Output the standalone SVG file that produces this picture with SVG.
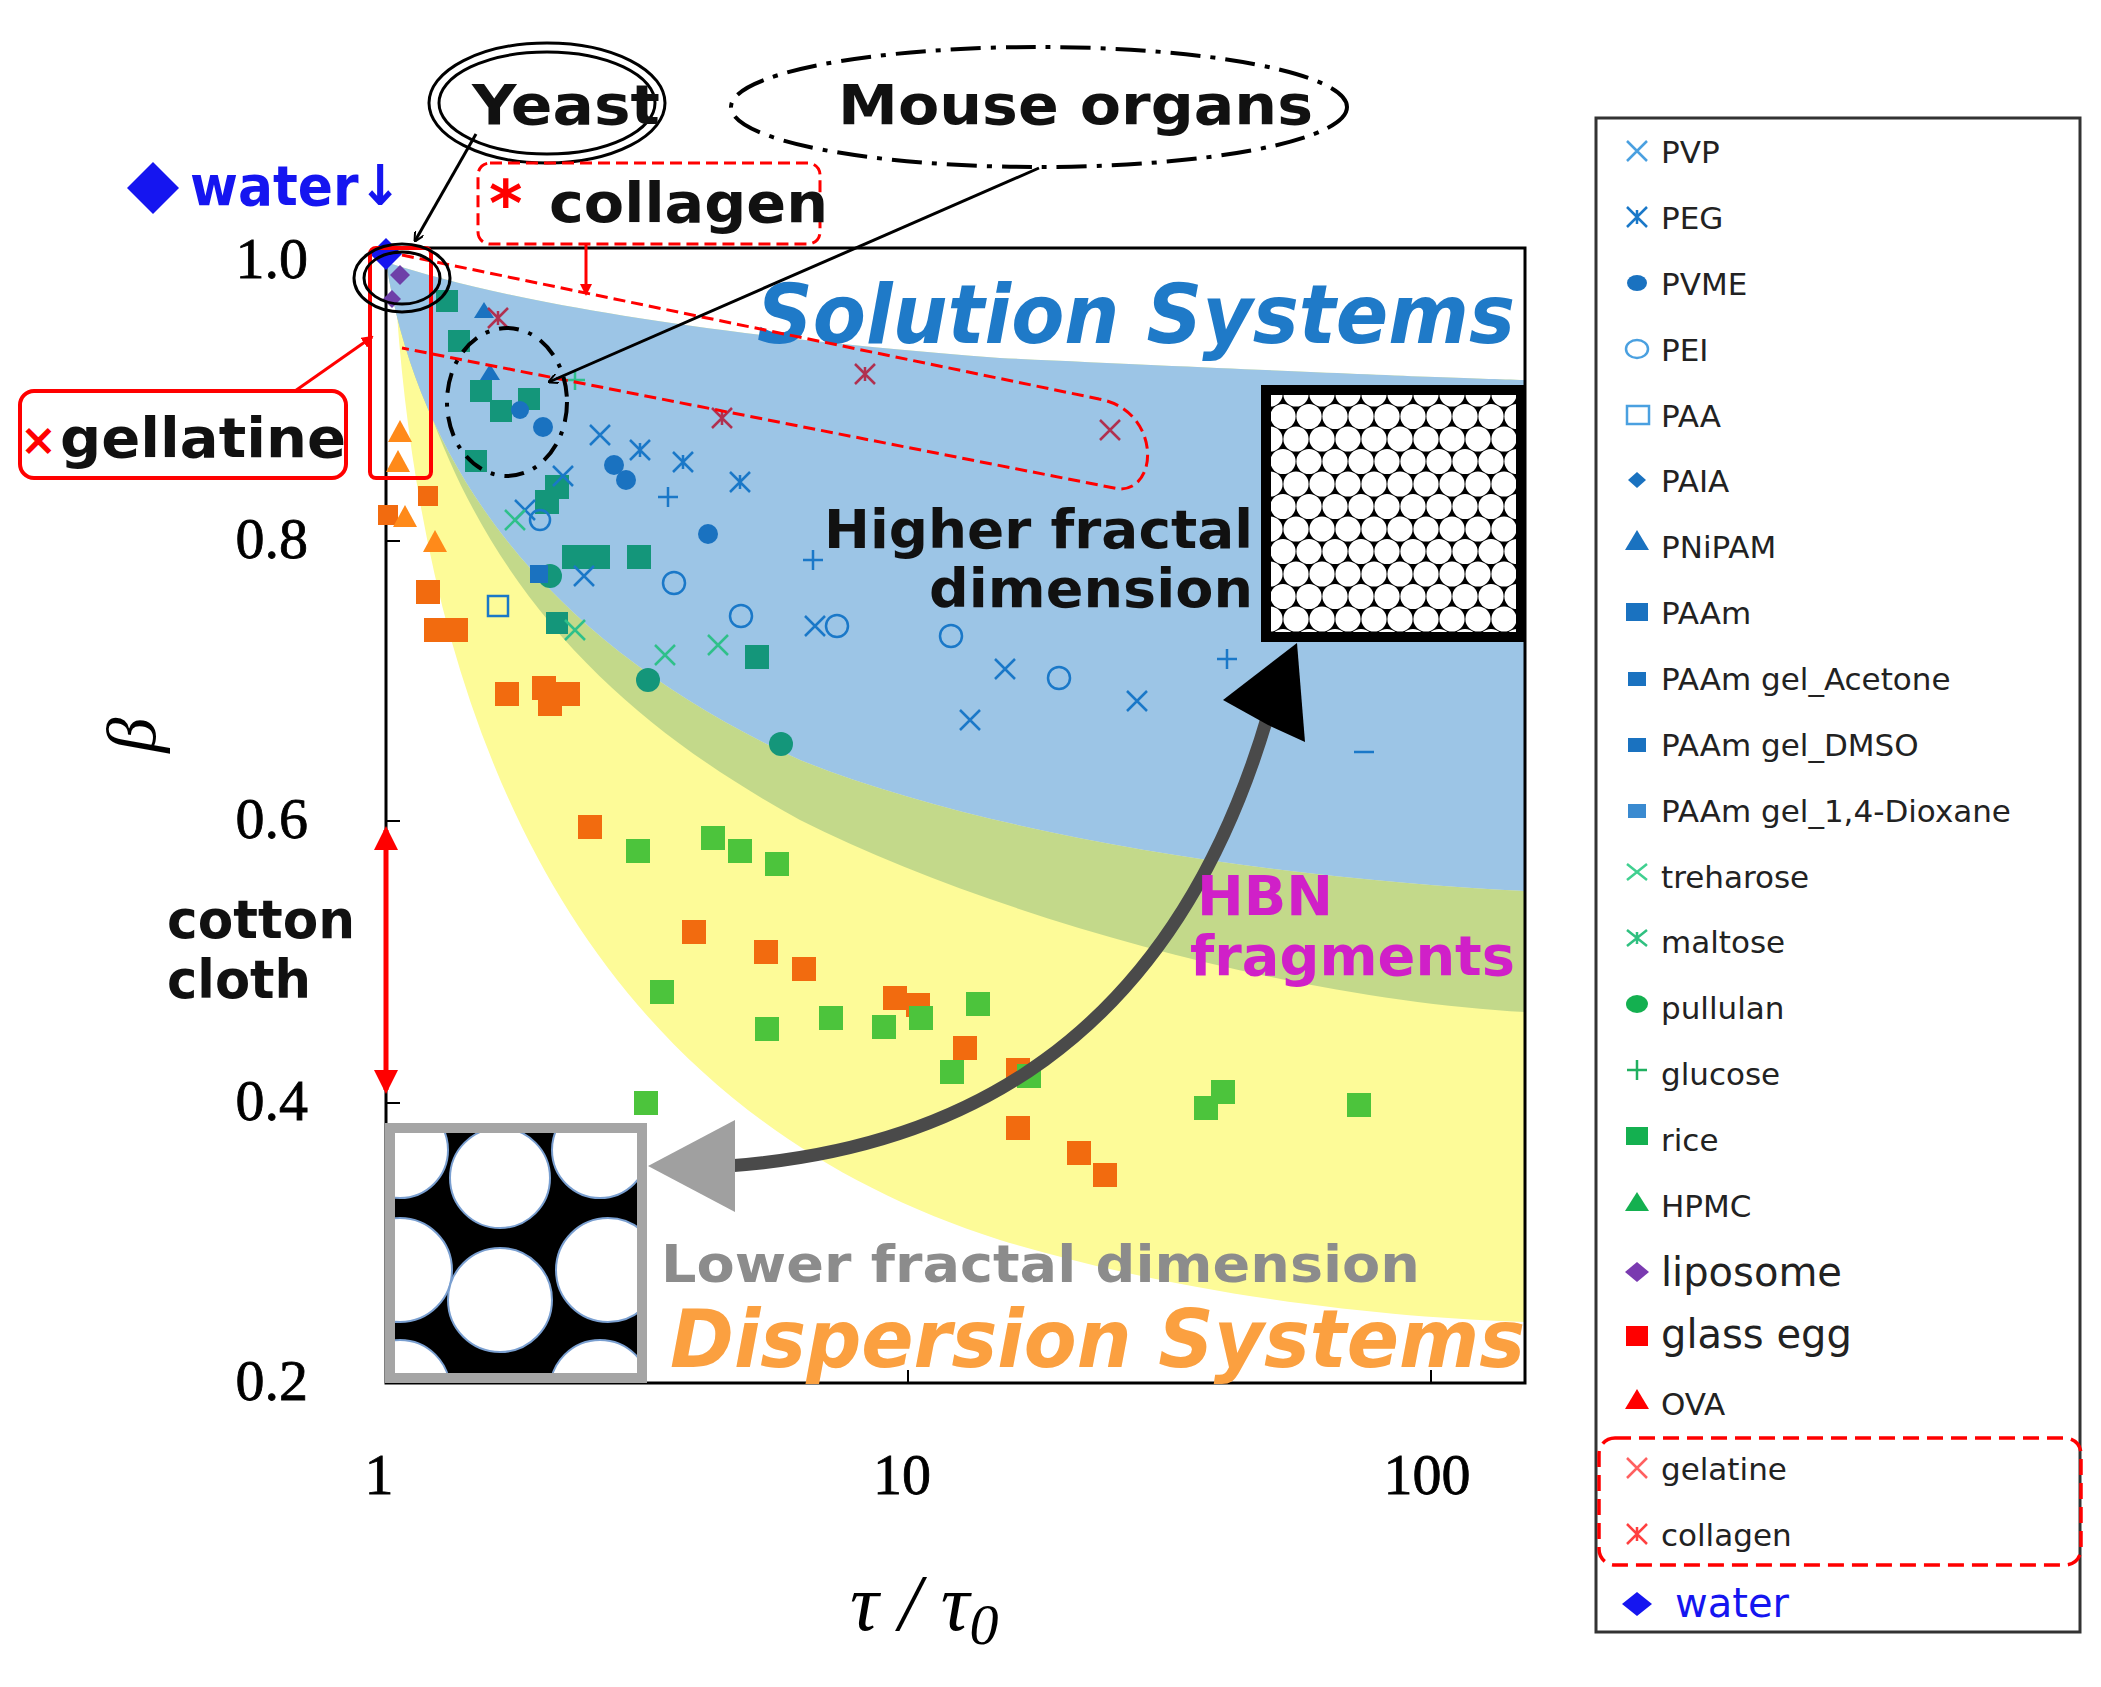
<svg xmlns="http://www.w3.org/2000/svg" width="2101" height="1687" viewBox="0 0 2101 1687">
<style>
.t{font-family:"DejaVu Sans","Liberation Sans",Arial,sans-serif;font-weight:bold}
.tm{font-family:"Liberation Serif","Times New Roman",serif}
.lg{font-family:"DejaVu Sans","Liberation Sans",Arial,sans-serif;font-size:31px;fill:#222}
.os{fill:#f26b0f}.gs{fill:#4cc43c}.ts{fill:#14967a}
.bx{stroke:#1a78c8;stroke-width:2.5;fill:none}
.bc{fill:#1a72c0}
.rx{stroke:#b03050;stroke-width:2.5;fill:none}
</style>
<defs>
<pattern id="hex" x="1270" y="394" width="26" height="45" patternUnits="userSpaceOnUse">
<rect width="26" height="45" fill="#000"/>
<circle cx="0" cy="0" r="12.6" fill="#fff"/><circle cx="26" cy="0" r="12.6" fill="#fff"/>
<circle cx="13" cy="22.5" r="12.6" fill="#fff"/><circle cx="0" cy="45" r="12.6" fill="#fff"/><circle cx="26" cy="45" r="12.6" fill="#fff"/>
</pattern>
<clipPath id="clow"><rect x="390" y="1128" width="252" height="250"/></clipPath>
<marker id="ab" markerWidth="10" markerHeight="10" refX="9" refY="5" orient="auto" markerUnits="userSpaceOnUse" viewBox="0 0 10 10"><path d="M0,0 L10,5 L0,10" fill="none" stroke="#000" stroke-width="2"/></marker>
<marker id="ar" markerWidth="12" markerHeight="12" refX="10" refY="6" orient="auto" markerUnits="userSpaceOnUse" viewBox="0 0 12 12"><path d="M0,0 L12,6 L0,12 Z" fill="red"/></marker>
<marker id="ar2" markerWidth="24" markerHeight="24" refX="20" refY="12" orient="auto-start-reverse" markerUnits="userSpaceOnUse" viewBox="0 0 24 24"><path d="M0,0 L24,12 L0,24 Z" fill="red"/></marker>
</defs>
<rect width="2101" height="1687" fill="#fff"/>

<g id="regions">
<path d="M395,285 C420,700 560,1100 1000,1240 C1200,1300 1400,1318 1525,1322 L1525,380 C1450,378 1300,372 1000,358 C700,335 500,300 386,262 Z" fill="#fdfb98"/>
<path d="M386,262 C420,480 560,650 800,760 C1000,840 1300,880 1525,891 L1525,1012 C1300,1000 1000,920 800,820 C600,710 450,560 395,285 Z" fill="#c3d98a"/>
<path d="M386,262 C500,300 700,335 1000,358 C1300,372 1450,378 1525,380 L1525,891 C1300,880 1000,840 800,760 C560,650 420,480 386,262 Z" fill="#9cc5e6"/>
</g>

<g id="axes">
<rect x="386" y="248" width="1139" height="1135" fill="none" stroke="#000" stroke-width="3"/>
<g stroke="#000" stroke-width="2"><line x1="386" y1="541" x2="400" y2="541"/><line x1="386" y1="821" x2="400" y2="821"/><line x1="386" y1="1103" x2="400" y2="1103"/><line x1="908" y1="1383" x2="908" y2="1370"/><line x1="1431" y1="1383" x2="1431" y2="1370"/></g>
<g class="tm" font-size="58" text-anchor="end" stroke="#000" stroke-width="0.8"><text x="308" y="278">1.0</text><text x="308" y="558">0.8</text><text x="308" y="838">0.6</text><text x="308" y="1120">0.4</text><text x="308" y="1400">0.2</text></g>
<g class="tm" font-size="58" text-anchor="middle" stroke="#000" stroke-width="0.8"><text x="379" y="1494">1</text><text x="902" y="1494">10</text><text x="1427" y="1494">100</text></g>
<text class="tm" font-size="70" font-style="italic" transform="translate(155,735) rotate(-90)" text-anchor="middle">β</text>
<text class="tm" font-size="80" font-style="italic" x="850" y="1630">τ / τ<tspan font-size="58" dy="14">0</tspan></text>
</g>

<g id="data">
<g class="os">
<rect x="378" y="505" width="20" height="20"/><rect x="418" y="486" width="20" height="20"/><rect x="416" y="580" width="24" height="24"/><rect x="424" y="618" width="44" height="24"/><rect x="495" y="682" width="24" height="24"/><rect x="532" y="676" width="24" height="24"/><rect x="538" y="692" width="24" height="24"/><rect x="556" y="682" width="24" height="24"/><rect x="578" y="815" width="24" height="24"/><rect x="682" y="920" width="24" height="24"/><rect x="754" y="940" width="24" height="24"/><rect x="792" y="957" width="24" height="24"/><rect x="883" y="986" width="24" height="24"/><rect x="906" y="993" width="24" height="24"/><rect x="953" y="1036" width="24" height="24"/><rect x="1006" y="1116" width="24" height="24"/><rect x="1067" y="1141" width="24" height="24"/><rect x="1093" y="1163" width="24" height="24"/><rect x="1006" y="1058" width="24" height="24"/>
</g>
<g fill="#ff8a1a"><path d="M405,505 l12,22 h-24z"/><path d="M435,530 l12,22 h-24z"/><path d="M400,420 l12,22 h-24z"/><path d="M398,450 l12,22 h-24z"/></g>
<g class="gs">
<rect x="626" y="839" width="24" height="24"/><rect x="701" y="826" width="24" height="24"/><rect x="728" y="839" width="24" height="24"/><rect x="765" y="852" width="24" height="24"/><rect x="650" y="980" width="24" height="24"/><rect x="755" y="1017" width="24" height="24"/><rect x="819" y="1006" width="24" height="24"/><rect x="872" y="1015" width="24" height="24"/><rect x="909" y="1006" width="24" height="24"/><rect x="966" y="992" width="24" height="24"/><rect x="940" y="1060" width="24" height="24"/><rect x="1017" y="1064" width="24" height="24"/><rect x="634" y="1091" width="24" height="24"/><rect x="1194" y="1096" width="24" height="24"/><rect x="1211" y="1080" width="24" height="24"/><rect x="1347" y="1093" width="24" height="24"/>
</g>
<g class="ts">
<rect x="436" y="290" width="22" height="22"/><rect x="448" y="330" width="22" height="22"/><rect x="470" y="380" width="22" height="22"/><rect x="490" y="400" width="22" height="22"/><rect x="518" y="388" width="22" height="22"/><rect x="535" y="490" width="24" height="24"/><rect x="545" y="475" width="24" height="24"/><rect x="562" y="545" width="48" height="24"/><rect x="627" y="545" width="24" height="24"/><rect x="745" y="645" width="24" height="24"/><rect x="546" y="612" width="22" height="22"/><rect x="465" y="450" width="22" height="22"/>
<circle cx="550" cy="576" r="12"/><circle cx="648" cy="680" r="12"/><circle cx="781" cy="744" r="12"/>
</g>
<g class="bc"><circle cx="543" cy="427" r="10"/><circle cx="614" cy="465" r="10"/><circle cx="626" cy="480" r="10"/><circle cx="708" cy="534" r="10"/><circle cx="520" cy="410" r="9"/><path d="M530,565 h18 v18 h-18z"/><path d="M474,318 l10,-16 l10,16z"/><path d="M480,380 l10,-16 l10,16z"/></g>
<g class="bx">
<path d="M590,425 l20,20 m0,-20 l-20,20"/><path d="M553,466 l20,20 m0,-20 l-20,20"/><path d="M515,500 l20,20 m0,-20 l-20,20"/><path d="M574,566 l20,20 m0,-20 l-20,20"/><path d="M805,616 l20,20 m0,-20 l-20,20"/><path d="M995,659 l20,20 m0,-20 l-20,20"/><path d="M960,710 l20,20 m0,-20 l-20,20"/><path d="M1127,691 l20,20 m0,-20 l-20,20"/>
<circle cx="674" cy="583" r="11"/><circle cx="741" cy="616" r="11"/><circle cx="837" cy="626" r="11"/><circle cx="951" cy="636" r="11"/><circle cx="1059" cy="678" r="11"/><circle cx="540" cy="520" r="10"/>
<path d="M630,440 l20,20 m0,-20 l-20,20 m10,-3 v-14"/><path d="M673,452 l20,20 m0,-20 l-20,20 m10,-3 v-14"/><path d="M730,472 l20,20 m0,-20 l-20,20 m10,-3 v-14"/>
<path d="M658,497 h20 m-10,-10 v20"/><path d="M803,560 h20 m-10,-10 v20"/><path d="M1217,659 h20 m-10,-10 v20"/><path d="M1354,752 h20"/>
<rect x="488" y="596" width="20" height="20"/>
</g>
<g stroke="#2fc08a" stroke-width="2.5" fill="none"><path d="M655,645 l20,20 m0,-20 l-20,20"/><path d="M708,635 l20,20 m0,-20 l-20,20"/><path d="M505,510 l20,20 m0,-20 l-20,20"/><path d="M565,620 l20,20 m0,-20 l-20,20"/><path d="M565,380 h20 m-10,-10 v20"/></g>
<g class="rx"><path d="M488,308 l20,20 m0,-20 l-20,20 m10,-3 v-14"/><path d="M855,364 l20,20 m0,-20 l-20,20 m10,-3 v-14"/><path d="M712,408 l20,20 m0,-20 l-20,20 m10,-3 v-14"/><path d="M1100,420 l20,20 m0,-20 l-20,20"/></g>
<g fill="#6e3fa8"><path d="M400,265 l10,10 l-10,10 l-10,-10z"/><path d="M392,290 l9,9 l-9,9 l-9,-9z"/></g>
<path d="M386,238 l16,16 l-16,16 l-16,-16z" fill="#1515f0"/>
</g>

<g id="gradients" fill="none">
<path d="M728,1166 C950,1150 1170,1050 1268,715" stroke="#4a4a4a" stroke-width="13"/>
<path d="M1297,643 L1305,742 L1268,725 L1223,700 Z" fill="#000"/>
<path d="M648,1166 L735,1120 L735,1212 Z" fill="#a0a0a0"/>
</g>

<g id="inset-high"><rect x="1266" y="390" width="255" height="247" fill="url(#hex)" stroke="#000" stroke-width="10"/></g>
<g id="inset-low">
<rect x="390" y="1128" width="252" height="250" fill="#000"/>
<g clip-path="url(#clow)" fill="#fff" stroke="#7a9fd0" stroke-width="2"><circle cx="400" cy="1150" r="48"/><circle cx="500" cy="1178" r="50"/><circle cx="600" cy="1150" r="48"/><circle cx="400" cy="1270" r="52"/><circle cx="500" cy="1300" r="52"/><circle cx="608" cy="1270" r="52"/><circle cx="400" cy="1390" r="50"/><circle cx="600" cy="1390" r="50"/></g>
<rect x="390" y="1128" width="252" height="250" fill="none" stroke="#a5a5a5" stroke-width="10"/>
</g>

<g id="labels">
<text class="t" x="757" y="343" font-size="82" font-style="italic" fill="#1f7ac8" textLength="758" lengthAdjust="spacingAndGlyphs">Solution Systems</text>
<text class="t" x="824" y="548" font-size="54" fill="#111" textLength="429" lengthAdjust="spacingAndGlyphs">Higher fractal</text>
<text class="t" x="929" y="607" font-size="54" fill="#111" textLength="324" lengthAdjust="spacingAndGlyphs">dimension</text>
<text class="t" x="1197" y="915" font-size="56" fill="#d020c8" textLength="136" lengthAdjust="spacingAndGlyphs">HBN</text>
<text class="t" x="1190" y="975" font-size="56" fill="#d020c8" textLength="325" lengthAdjust="spacingAndGlyphs">fragments</text>
<text class="t" x="661" y="1282" font-size="52" fill="#8c8c8c" textLength="759" lengthAdjust="spacingAndGlyphs">Lower fractal dimension</text>
<text class="t" x="670" y="1367" font-size="80" font-style="italic" fill="#fba040" textLength="855" lengthAdjust="spacingAndGlyphs">Dispersion Systems</text>
<text class="t" x="167" y="938" font-size="54" fill="#111" textLength="188" lengthAdjust="spacingAndGlyphs">cotton</text>
<text class="t" x="167" y="998" font-size="54" fill="#111" textLength="144" lengthAdjust="spacingAndGlyphs">cloth</text>
</g>

<g id="annotations" fill="none">
<ellipse cx="547" cy="103" rx="118" ry="60" stroke="#000" stroke-width="3"/>
<ellipse cx="547" cy="103" rx="108" ry="51" stroke="#000" stroke-width="3"/>
<text class="t" x="472" y="124" font-size="56" fill="#111" textLength="188" lengthAdjust="spacingAndGlyphs">Yeast</text>
<ellipse cx="1039" cy="107" rx="308" ry="60" stroke="#000" stroke-width="4" stroke-dasharray="30,10,5,10"/>
<text class="t" x="838" y="124" font-size="56" fill="#111" textLength="475" lengthAdjust="spacingAndGlyphs">Mouse organs</text>
<path d="M153,162 l26,26 l-26,26 l-26,-26z" fill="#1515f0"/>
<text class="t" x="190" y="205" font-size="56" fill="#1515f0" textLength="212" lengthAdjust="spacingAndGlyphs">water↓</text>
<rect x="478" y="163" width="342" height="81" rx="12" stroke="red" stroke-width="3" stroke-dasharray="12,6"/>
<text class="t" x="489" y="226" font-size="64" fill="red">*</text>
<text class="t" x="549" y="222" font-size="56" fill="#111" textLength="279" lengthAdjust="spacingAndGlyphs">collagen</text>
<rect x="20" y="391" width="326" height="87" rx="14" stroke="red" stroke-width="4"/>
<text class="t" x="20" y="455" font-size="44" fill="red">×</text>
<text class="t" x="60" y="457" font-size="56" fill="#111" textLength="286" lengthAdjust="spacingAndGlyphs">gellatine</text>
<rect x="370" y="248" width="61" height="230" rx="6" stroke="red" stroke-width="4"/>
<path d="M402,255 L1099,399 C1160,410 1160,490 1119,489 L402,348" stroke="red" stroke-width="3" stroke-dasharray="12,6"/>
<ellipse cx="507" cy="402" rx="60" ry="74" stroke="#000" stroke-width="4" stroke-dasharray="20,10,4,10"/>
<ellipse cx="402" cy="278" rx="48" ry="34" stroke="#000" stroke-width="3"/>
<ellipse cx="402" cy="278" rx="38" ry="26" stroke="#000" stroke-width="3"/>
</g>

<g id="connectors" fill="none">
<path d="M476,134 L415,241" stroke="#000" stroke-width="3" marker-end="url(#ab)"/>
<path d="M1039,168 L549,382" stroke="#000" stroke-width="3" marker-end="url(#ab)"/>
<path d="M586,244 L586,294" stroke="red" stroke-width="3" marker-end="url(#ar)"/>
<path d="M295,391 L372,337" stroke="red" stroke-width="3" marker-end="url(#ar)"/>
<path d="M386,830 L386,1090" stroke="red" stroke-width="5" marker-start="url(#ar2)" marker-end="url(#ar2)"/>
</g>

<g id="legend">
<rect x="1596" y="118" width="484" height="1514" fill="#fff" stroke="#333" stroke-width="3"/>
<g stroke-width="2.5" fill="none">
<path d="M1627,141 l20,20 m0,-20 l-20,20" stroke="#4aa0e0"/>
<path d="M1627,207 l20,20 m0,-20 l-20,20 m10,-3 v-14" stroke="#1a78c8"/>
<ellipse cx="1637" cy="283" rx="10" ry="8" fill="#1a72c0" stroke="none"/>
<ellipse cx="1637" cy="349" rx="11" ry="9" stroke="#4aa0e0"/>
<rect x="1627" y="406" width="22" height="18" stroke="#4aa0e0"/>
<path d="M1637,472 l9,8 l-9,8 l-9,-8z" fill="#1a72c0" stroke="none"/>
<path d="M1637,530 l12,20 h-24z" fill="#1a72c0" stroke="none"/>
<rect x="1626" y="603" width="22" height="18" fill="#1a72c0" stroke="none"/>
<rect x="1628" y="672" width="18" height="14" fill="#1a72c0" stroke="none"/>
<rect x="1628" y="738" width="18" height="14" fill="#1a72c0" stroke="none"/>
<rect x="1628" y="804" width="18" height="14" fill="#3a8ad0" stroke="none"/>
<path d="M1627,864 l20,16 m0,-16 l-20,16" stroke="#40d090"/>
<path d="M1627,930 l20,16 m0,-16 l-20,16 m10,-2 v-12" stroke="#30c080"/>
<ellipse cx="1637" cy="1004" rx="11" ry="9" fill="#14b050" stroke="none"/>
<path d="M1627,1070 h20 m-10,-10 v20" stroke="#20b060"/>
<rect x="1626" y="1127" width="22" height="18" fill="#14b050" stroke="none"/>
<path d="M1637,1192 l12,19 h-24z" fill="#14b050" stroke="none"/>
<path d="M1637,1262 l12,10 l-12,10 l-12,-10z" fill="#7a3ab0" stroke="none"/>
<rect x="1626" y="1326" width="22" height="20" fill="red" stroke="none"/>
<path d="M1637,1389 l12,20 h-24z" fill="red" stroke="none"/>
<path d="M1627,1458 l20,20 m0,-20 l-20,20" stroke="#ff6060"/>
<path d="M1627,1524 l20,20 m0,-20 l-20,20 m10,-3 v-14" stroke="#ff4040"/>
<path d="M1637,1592 l15,12 l-15,12 l-15,-12z" fill="#1515f0" stroke="none"/>
</g>
<g class="lg">
<text x="1661" y="163">PVP</text><text x="1661" y="229">PEG</text><text x="1661" y="295">PVME</text><text x="1661" y="361">PEI</text><text x="1661" y="427">PAA</text><text x="1661" y="492">PAIA</text><text x="1661" y="558">PNiPAM</text><text x="1661" y="624">PAAm</text><text x="1661" y="690">PAAm gel_Acetone</text><text x="1661" y="756">PAAm gel_DMSO</text><text x="1661" y="822">PAAm gel_1,4-Dioxane</text><text x="1661" y="888">treharose</text><text x="1661" y="953">maltose</text><text x="1661" y="1019">pullulan</text><text x="1661" y="1085">glucose</text><text x="1661" y="1151">rice</text><text x="1661" y="1217">HPMC</text>
<text x="1661" y="1286" font-size="40">liposome</text><text x="1661" y="1348" font-size="40">glass egg</text><text x="1661" y="1415">OVA</text><text x="1661" y="1480">gelatine</text><text x="1661" y="1546">collagen</text>
<text x="1675" y="1617" font-size="40" fill="#1515f0">water</text>
</g>
<rect x="1599" y="1438" width="482" height="127" rx="16" fill="none" stroke="red" stroke-width="3.5" stroke-dasharray="16,8"/>
</g>
</svg>
